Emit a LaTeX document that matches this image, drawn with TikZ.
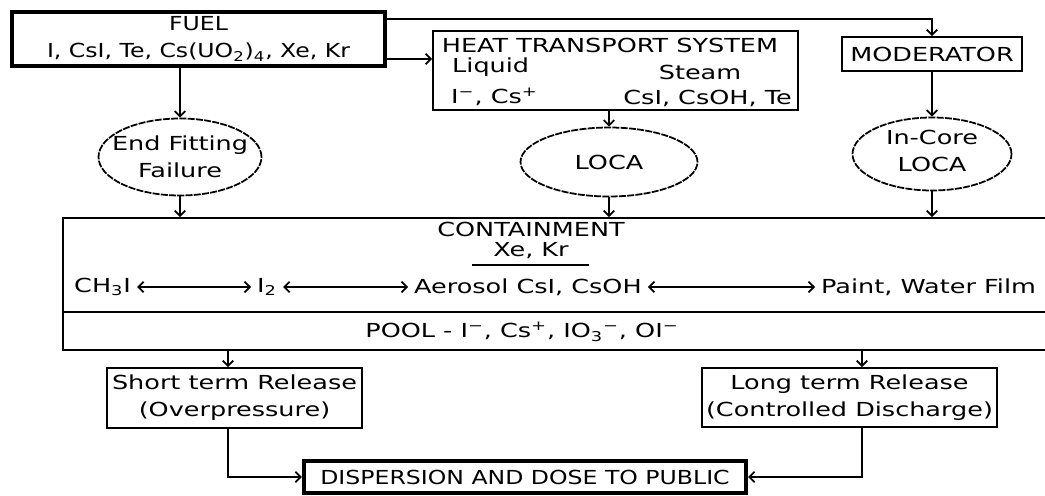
\documentclass[tikz,border=0pt]{standalone}
\usepackage{fontspec}
\setmainfont[FakeStretch=1.32]{DejaVu Sans}
\newfontfamily\narrowfont[FakeStretch=1.22]{DejaVu Sans}
\usetikzlibrary{arrows.meta,shapes.geometric}

\begin{document}
\begin{tikzpicture}[
  x=0.02cm, y=-0.02cm,
  every node/.style={font=\fontsize{11}{15.5}\selectfont},
  boxline/.style={draw, line width=1pt, rectangle, align=center, inner sep=0pt},
  heavybox/.style={draw, line width=2.4pt, rectangle, align=center, inner sep=0pt},
  event/.style={draw, ellipse, line width=1pt, dash pattern=on 4pt off 0.7pt, inner sep=0pt},
  flow/.style={draw, line width=1pt, -{Straight Barb[length=3pt,width=6pt]}},
  swap/.style={draw, line width=1pt, {Straight Barb[length=3pt,width=6pt]}-{Straight Barb[length=3pt,width=6pt]}},
]
\useasboundingbox (0,0) rectangle (1045,496);

% ============ sources ============
\node[heavybox, minimum width=7.46cm, minimum height=1.08cm,
  font=\fontsize{11}{15.5}\narrowfont] (fuel) at (198.5,39)
  {FUEL\\I, CsI, Te, Cs(UO\textsubscript{2})\textsubscript{4}, Xe, Kr};

\node[boxline, minimum width=7.30cm, minimum height=1.58cm] (hts) at (615.5,70.5) {};
\node (htsT) at (610,45) {HEAT TRANSPORT SYSTEM};
\node[anchor=west] (liq) at (446,67) {Liquid};
\node[anchor=west] (liqI) at (445,97) {I\textsuperscript{−}, Cs\textsuperscript{+}};
\node (stm) at (700,72) {Steam};
\node[anchor=east] (stmI) at (798,98) {CsI, CsOH, Te};

\node[boxline, minimum width=3.60cm, minimum height=0.68cm] (mod) at (932,54) {MODERATOR};

% ============ failure events ============
\node[event, minimum width=3.26cm, minimum height=1.54cm] (eff) at (180,157) {};
\node[align=center] (effT) at (eff) {End Fitting\\Failure};
\node[event, minimum width=3.54cm, minimum height=1.38cm] (loca) at (609,162) {};
\node (locaT) at (loca) {LOCA};
\node[event, minimum width=3.18cm, minimum height=1.46cm] (icl) at (932,154) {};
\node[align=center] (iclT) at (932,151) {In-Core\\LOCA};

\draw[flow] (fuel.east |- 0,19) -| (mod.north);
\draw[flow] (fuel.east |- 0,59) -- (hts.west |- 0,59);
\draw[flow] (fuel.south -| eff) -- (eff.north);
\draw[flow] (hts.south -| loca) -- (loca.north);
\draw[flow] (mod) -- (icl);

% ============ containment ============
\node[boxline, minimum width=19.94cm, minimum height=2.64cm] (cont) at (561.5,284) {};
\draw[line width=1pt] (cont.west |- 0,312) -- (cont.east |- 0,312);

\draw[flow] (eff) -- (eff |- cont.north);
\draw[flow] (loca) -- (loca |- cont.north);
\draw[flow] (icl) -- (icl |- cont.north);

\node (contT) at (531,229) {CONTAINMENT};
\node (noble) at (531,251) {Xe, Kr};
\draw[line width=1pt] (472,265) -- (589,265);

\node[anchor=west] (ch3i) at (68,287) {CH\textsubscript{3}I};
\node[anchor=west] (iod) at (251,287) {I\textsubscript{2}};
\node[anchor=west] (aero) at (408,287) {Aerosol CsI, CsOH};
\node[anchor=west] (paint) at (815,287) {Paint, Water Film};
\draw[swap] (ch3i) -- (iod);
\draw[swap] (iod) -- (aero);
\draw[swap] (aero) -- (paint);

\node (pool) at (522,332)
  {POOL - I\textsuperscript{−}, Cs\textsuperscript{+}, IO\textsubscript{3}\textsuperscript{−}, OI\textsuperscript{−}};

% ============ releases ============
\node[boxline, minimum width=5.10cm, minimum height=1.20cm] (str) at (234.5,398)
  {Short term Release\\(Overpressure)};
\node[boxline, minimum width=5.90cm, minimum height=1.18cm] (ltr) at (849.5,397.5)
  {Long term Release\\(Controlled Discharge)};
\node[heavybox, minimum width=8.84cm, minimum height=0.64cm,
  font=\fontsize{11}{15.5}\narrowfont] (disp) at (525,477)
  {DISPERSION AND DOSE TO PUBLIC};

\draw[flow] (cont.south -| 228,0) -- (str.north -| 228,0);
\draw[flow] (cont.south -| 862,0) -- (ltr.north -| 862,0);
\draw[flow] (str.south -| 228,0) |- (disp.west);
\draw[flow] (ltr.south -| 862,0) |- (disp.east);

\end{tikzpicture}
\end{document}
